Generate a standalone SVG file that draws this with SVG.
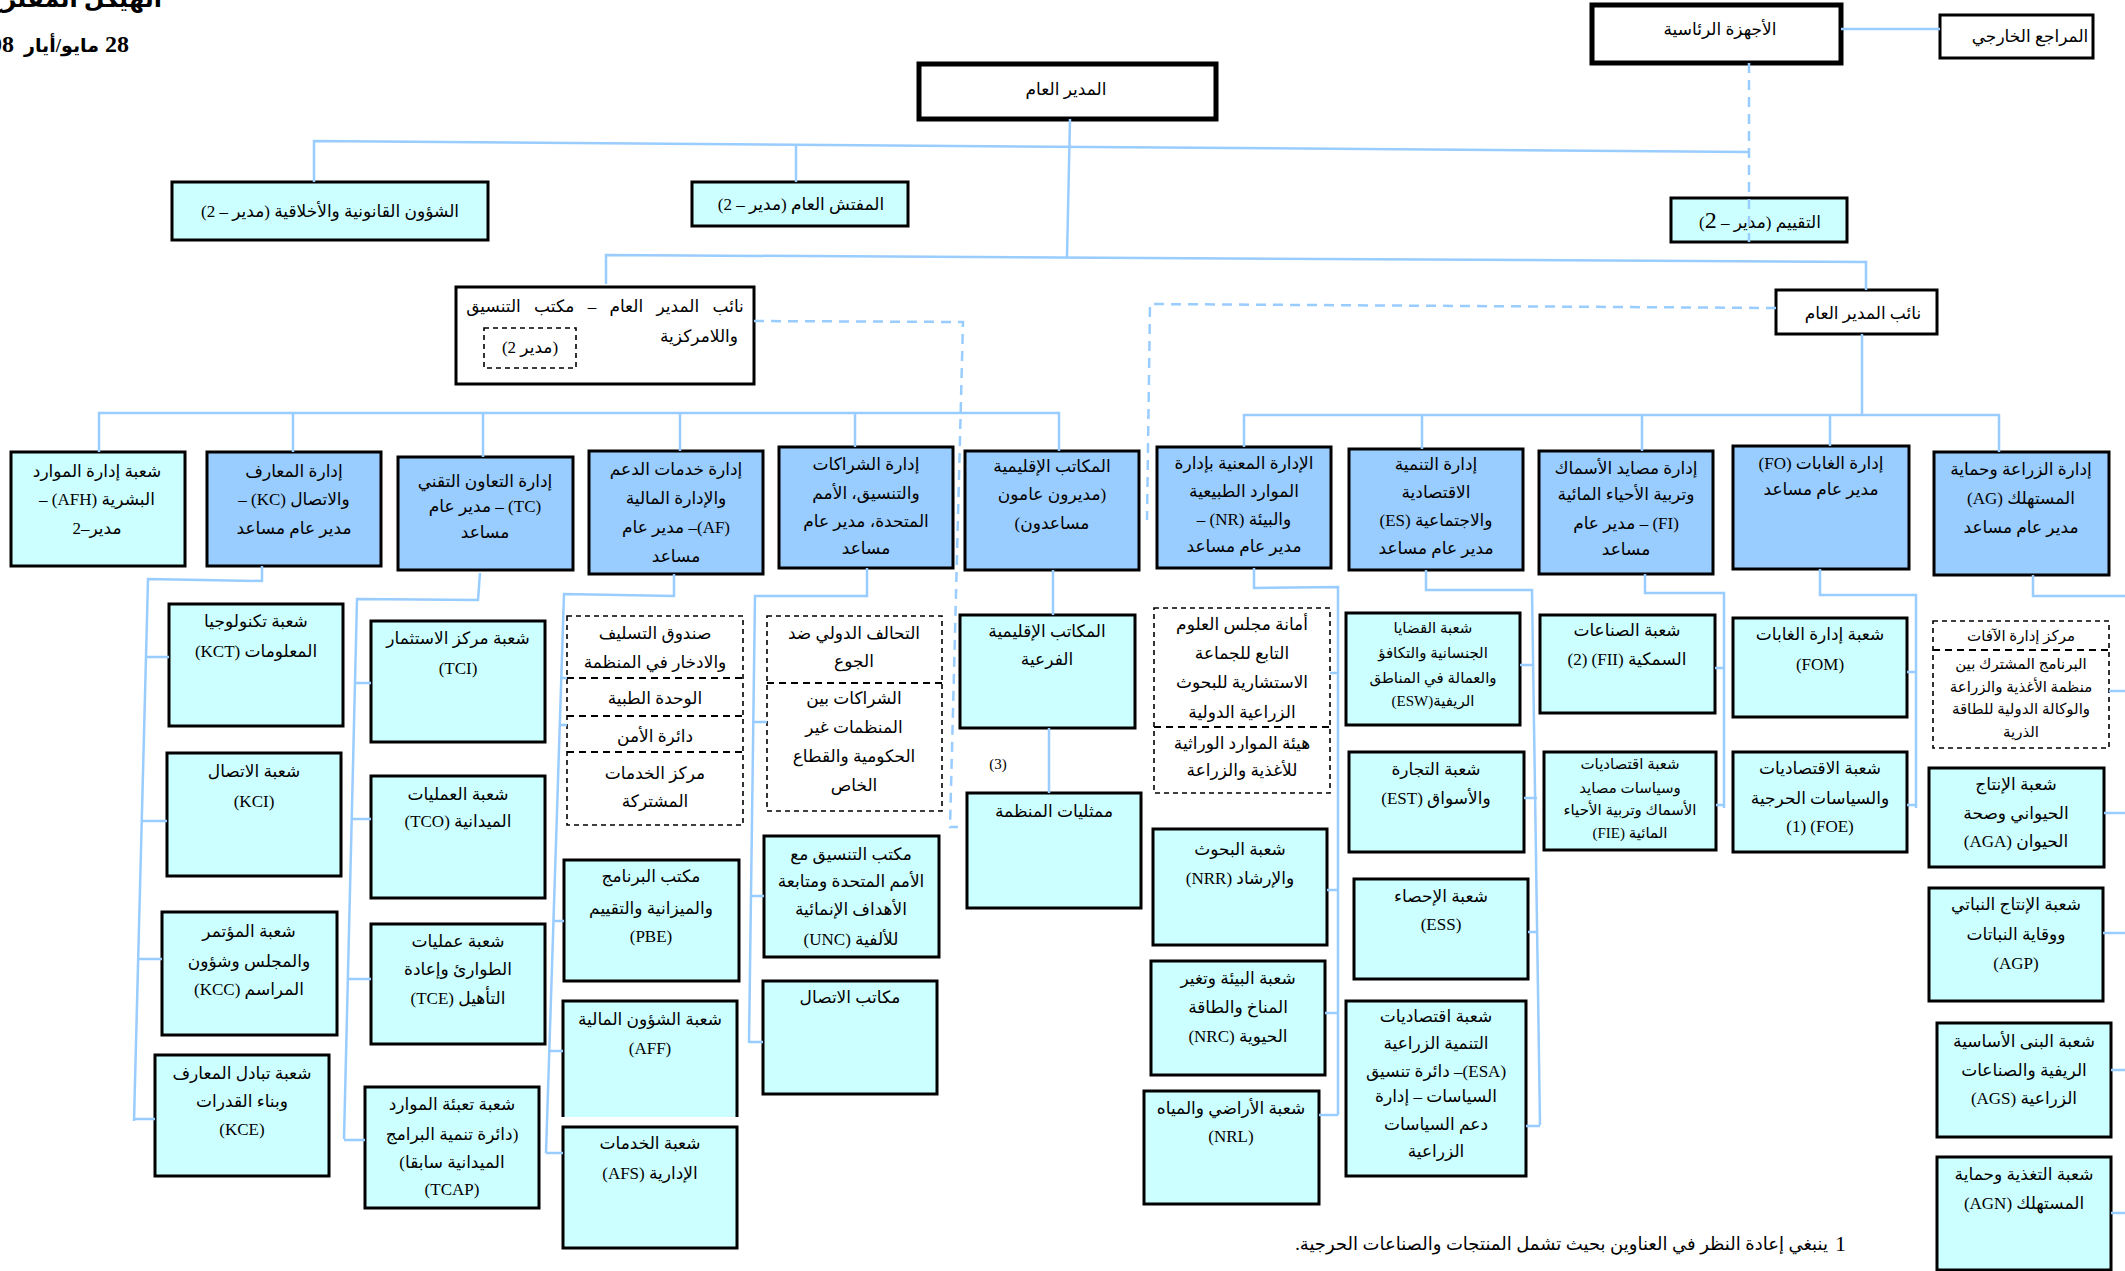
<svg xmlns="http://www.w3.org/2000/svg" width="2125" height="1271" viewBox="0 0 2125 1271">
<style>
.c{fill:#CCFFFF;stroke:#000;stroke-width:3}
.b{fill:#99CCFF;stroke:#000;stroke-width:3}
.w{fill:#fff;stroke:#000;stroke-width:3}
.wk{fill:#fff;stroke:#000;stroke-width:5}
.d{fill:#fff;stroke:#000;stroke-width:1.6;stroke-dasharray:5 4}
.dl{fill:none;stroke:#000;stroke-width:2;stroke-dasharray:7 5}
.t{font-family:"Liberation Serif","DejaVu Sans",serif;font-size:17px;text-anchor:middle;direction:rtl;fill:#000}
.s{font-size:15px}
.conn{fill:none;stroke:#99CCFF;stroke-width:2.5}
.dash{stroke-dasharray:10 7}
.title{font-family:"Liberation Serif","DejaVu Sans",serif;font-size:24px;font-weight:bold;text-anchor:start;direction:rtl;fill:#000}
.date{font-family:"Liberation Serif","DejaVu Sans",serif;font-size:24px;font-weight:bold;text-anchor:end;fill:#000}
</style>

<!-- title -->
<text class="title" x="162" y="7">الهيكل المقترح لمنظمة الأغذية والزراعة</text>
<text class="date" y="52"><tspan x="129">28</tspan><tspan x="99" font-size="19">مايو/أيار</tspan><tspan x="14">2008</tspan></text>

<g id="gov"><rect class="wk" x="1592" y="5" width="249" height="58"/><text class="t" x="1720" y="35">الأجهزة الرئاسية</text></g>
<g id="ext"><rect class="w" x="1940" y="15" width="153" height="43"/><text class="t" x="2030" y="42">المراجع الخارجي</text></g>
<g id="dg"><rect class="wk" x="919" y="64" width="297" height="55"/><text class="t" x="1066" y="95">المدير العام</text></g>
<g id="legal"><rect class="c" x="172" y="182" width="316" height="58"/><text class="t" x="330" y="217">الشؤون القانونية والأخلاقية (مدير – 2)</text></g>
<g id="ig"><rect class="c" x="692" y="182" width="216" height="44"/><text class="t" x="801" y="210">المفتش العام (مدير – 2)</text></g>
<g id="eval"><rect class="c" x="1671" y="198" width="176" height="44"/><text class="t" x="1760" y="228">التقييم (مدير – <tspan font-size="24">2</tspan>)</text></g>
<g id="ndg-coord"><rect class="w" x="456" y="287" width="298" height="97"/>
<text class="t" x="605" y="312" word-spacing="9">نائب المدير العام – مكتب التنسيق</text>
<text class="t" x="738" y="342" style="text-anchor:start">واللامركزية</text>
<rect class="d" x="484" y="328" width="92" height="40"/><text class="t" x="530" y="353" font-size="13">(مدير 2)</text></g>
<g id="ndg"><rect class="w" x="1776" y="290" width="161" height="44"/><text class="t" x="1863" y="319">نائب المدير العام</text></g>

<!-- departments -->
<g id="afh"><rect class="c" x="11" y="452" width="174" height="114"/><text class="t"><tspan x="97" y="477">شعبة إدارة الموارد</tspan><tspan x="97" y="505">البشرية (AFH) –</tspan><tspan x="97" y="534">مدير–2</tspan></text></g>
<g id="kc"><rect class="b" x="207" y="452" width="174" height="114"/><text class="t"><tspan x="294" y="477">إدارة المعارف</tspan><tspan x="294" y="505">والاتصال (KC) –</tspan><tspan x="294" y="534">مدير عام مساعد</tspan></text></g>
<g id="tc"><rect class="b" x="398" y="457" width="175" height="113"/><text class="t"><tspan x="485" y="487">إدارة التعاون التقني</tspan><tspan x="485" y="512">(TC) – مدير عام</tspan><tspan x="485" y="538">مساعد</tspan></text></g>
<g id="af"><rect class="b" x="589" y="451" width="174" height="123"/><text class="t"><tspan x="676" y="475">إدارة خدمات الدعم</tspan><tspan x="676" y="504">والإدارة المالية</tspan><tspan x="676" y="533">(AF)– مدير عام</tspan><tspan x="676" y="562">مساعد</tspan></text></g>
<g id="part"><rect class="b" x="779" y="447" width="174" height="121"/><text class="t"><tspan x="866" y="470">إدارة الشراكات</tspan><tspan x="866" y="499">والتنسيق، الأمم</tspan><tspan x="866" y="527">المتحدة، مدير عام</tspan><tspan x="866" y="554">مساعد</tspan></text></g>
<g id="ro"><rect class="b" x="965" y="451" width="174" height="119"/><text class="t"><tspan x="1052" y="472">المكاتب الإقليمية</tspan><tspan x="1052" y="500">(مديرون عامون</tspan><tspan x="1052" y="529">مساعدون)</tspan></text></g>
<g id="nr"><rect class="b" x="1157" y="447" width="174" height="121"/><text class="t"><tspan x="1244" y="469">الإدارة المعنية بإدارة</tspan><tspan x="1244" y="497">الموارد الطبيعية</tspan><tspan x="1244" y="525">والبيئة (NR) –</tspan><tspan x="1244" y="552">مدير عام مساعد</tspan></text></g>
<g id="es"><rect class="b" x="1349" y="449" width="174" height="121"/><text class="t"><tspan x="1436" y="470">إدارة التنمية</tspan><tspan x="1436" y="498">الاقتصادية</tspan><tspan x="1436" y="526">والاجتماعية (ES)</tspan><tspan x="1436" y="554">مدير عام مساعد</tspan></text></g>
<g id="fi"><rect class="b" x="1539" y="451" width="174" height="123"/><text class="t"><tspan x="1626" y="474">إدارة مصايد الأسماك</tspan><tspan x="1626" y="500">وتربية الأحياء المائية</tspan><tspan x="1626" y="529">(FI) – مدير عام</tspan><tspan x="1626" y="555">مساعد</tspan></text></g>
<g id="fo"><rect class="b" x="1733" y="446" width="176" height="123"/><text class="t"><tspan x="1821" y="469">إدارة الغابات (FO)</tspan><tspan x="1821" y="495">مدير عام مساعد</tspan></text></g>
<g id="ag"><rect class="b" x="1934" y="452" width="175" height="123"/><text class="t"><tspan x="2021" y="475">إدارة الزراعة وحماية</tspan><tspan x="2021" y="504">المستهلك (AG)</tspan><tspan x="2021" y="533">مدير عام مساعد</tspan></text></g>

<!-- KC divisions -->
<g id="kct"><rect class="c" x="169" y="604" width="174" height="122"/><text class="t"><tspan x="256" y="627">شعبة تكنولوجيا</tspan><tspan x="256" y="657">المعلومات (KCT)</tspan></text></g>
<g id="kci"><rect class="c" x="167" y="753" width="174" height="123"/><text class="t"><tspan x="254" y="777">شعبة الاتصال</tspan><tspan x="254" y="807">(KCI)</tspan></text></g>
<g id="kcc"><rect class="c" x="162" y="912" width="175" height="123"/><text class="t"><tspan x="249" y="937">شعبة المؤتمر</tspan><tspan x="249" y="967">والمجلس وشؤون</tspan><tspan x="249" y="995">المراسم (KCC)</tspan></text></g>
<g id="kce"><rect class="c" x="155" y="1055" width="174" height="121"/><text class="t"><tspan x="242" y="1079">شعبة تبادل المعارف</tspan><tspan x="242" y="1107">وبناء القدرات</tspan><tspan x="242" y="1135">(KCE)</tspan></text></g>

<!-- TC divisions -->
<g id="tci"><rect class="c" x="371" y="621" width="174" height="121"/><text class="t"><tspan x="458" y="644">شعبة مركز الاستثمار</tspan><tspan x="458" y="674">(TCI)</tspan></text></g>
<g id="tco"><rect class="c" x="371" y="776" width="174" height="122"/><text class="t"><tspan x="458" y="800">شعبة العمليات</tspan><tspan x="458" y="827">الميدانية (TCO)</tspan></text></g>
<g id="tce"><rect class="c" x="371" y="924" width="174" height="120"/><text class="t"><tspan x="458" y="947">شعبة عمليات</tspan><tspan x="458" y="975">الطوارئ وإعادة</tspan><tspan x="458" y="1004">التأهيل (TCE)</tspan></text></g>
<g id="tcap"><rect class="c" x="365" y="1087" width="174" height="121"/><text class="t"><tspan x="452" y="1110">شعبة تعبئة الموارد</tspan><tspan x="452" y="1140">(دائرة تنمية البرامج</tspan><tspan x="452" y="1168">الميدانية سابقا)</tspan><tspan x="452" y="1195">(TCAP)</tspan></text></g>

<!-- AF -->
<g id="af-units"><rect class="d" x="567" y="616" width="176" height="209"/>
<path class="dl" d="M567 678H743M567 716H743M567 752H743"/>
<text class="t"><tspan x="655" y="639">صندوق التسليف</tspan><tspan x="655" y="668">والادخار في المنظمة</tspan><tspan x="655" y="704">الوحدة الطبية</tspan><tspan x="655" y="742">دائرة الأمن</tspan><tspan x="655" y="779">مركز الخدمات</tspan><tspan x="655" y="807">المشتركة</tspan></text></g>
<g id="pbe"><rect class="c" x="564" y="860" width="175" height="121"/><text class="t"><tspan x="651" y="882">مكتب البرنامج</tspan><tspan x="651" y="914">والميزانية والتقييم</tspan><tspan x="651" y="942">(PBE)</tspan></text></g>
<g id="aff"><path d="M563 1117V1001H737V1117Z" fill="#CCFFFF"/><path d="M563 1117V1001H737V1117" fill="none" stroke="#000" stroke-width="3"/><text class="t"><tspan x="650" y="1025">شعبة الشؤون المالية</tspan><tspan x="650" y="1054">(AFF)</tspan></text></g>
<g id="afs"><rect class="c" x="563" y="1127" width="174" height="121"/><text class="t"><tspan x="650" y="1149">شعبة الخدمات</tspan><tspan x="650" y="1179">الإدارية (AFS)</tspan></text></g>

<!-- Partnerships -->
<g id="part-units"><rect class="d" x="767" y="616" width="175" height="195"/>
<path class="dl" d="M767 683H942"/>
<text class="t"><tspan x="854" y="639">التحالف الدولي ضد</tspan><tspan x="854" y="667">الجوع</tspan><tspan x="854" y="704">الشراكات بين</tspan><tspan x="854" y="733">المنظمات غير</tspan><tspan x="854" y="762">الحكومية والقطاع</tspan><tspan x="854" y="791">الخاص</tspan></text></g>
<g id="unc"><rect class="c" x="764" y="836" width="175" height="121"/><text class="t"><tspan x="851" y="860">مكتب التنسيق مع</tspan><tspan x="851" y="887">الأمم المتحدة ومتابعة</tspan><tspan x="851" y="915">الأهداف الإنمائية</tspan><tspan x="851" y="945">للألفية (UNC)</tspan></text></g>
<g id="lia"><rect class="c" x="763" y="981" width="174" height="113"/><text class="t" x="850" y="1003">مكاتب الاتصال</text></g>

<!-- Regional -->
<g id="rso"><rect class="c" x="960" y="615" width="175" height="113"/><text class="t"><tspan x="1047" y="637">المكاتب الإقليمية</tspan><tspan x="1047" y="665">الفرعية</tspan></text></g>
<g id="rep"><rect class="c" x="967" y="793" width="174" height="115"/><text class="t" x="1054" y="817">ممثليات المنظمة</text></g>
<text class="t s" x="998" y="769">(3)</text>

<!-- NR -->
<g id="nr-units"><rect class="d" x="1154" y="608" width="176" height="185"/>
<path class="dl" d="M1154 727H1330"/>
<text class="t"><tspan x="1242" y="630">أمانة مجلس العلوم</tspan><tspan x="1242" y="659">التابع للجماعة</tspan><tspan x="1242" y="688">الاستشارية للبحوث</tspan><tspan x="1242" y="718">الزراعية الدولية</tspan><tspan x="1242" y="749">هيئة الموارد الوراثية</tspan><tspan x="1242" y="776">للأغذية والزراعة</tspan></text></g>
<g id="nrr"><rect class="c" x="1153" y="829" width="174" height="116"/><text class="t"><tspan x="1240" y="855">شعبة البحوث</tspan><tspan x="1240" y="884">والإرشاد (NRR)</tspan></text></g>
<g id="nrc"><rect class="c" x="1151" y="961" width="174" height="114"/><text class="t"><tspan x="1238" y="984">شعبة البيئة وتغير</tspan><tspan x="1238" y="1013">المناخ والطاقة</tspan><tspan x="1238" y="1042">الحيوية (NRC)</tspan></text></g>
<g id="nrl"><rect class="c" x="1144" y="1091" width="175" height="113"/><text class="t"><tspan x="1231" y="1114">شعبة الأراضي والمياه</tspan><tspan x="1231" y="1142">(NRL)</tspan></text></g>

<!-- ES -->
<g id="esw"><rect class="c" x="1346" y="613" width="174" height="112"/><text class="t s"><tspan x="1433" y="633">شعبة القضايا</tspan><tspan x="1433" y="658">الجنسانية والتكافؤ</tspan><tspan x="1433" y="683">والعمالة في المناطق</tspan><tspan x="1433" y="706">الريفية(ESW)</tspan></text></g>
<g id="est"><rect class="c" x="1349" y="752" width="175" height="100"/><text class="t"><tspan x="1436" y="775">شعبة التجارة</tspan><tspan x="1436" y="804">والأسواق (EST)</tspan></text></g>
<g id="ess"><rect class="c" x="1354" y="879" width="174" height="100"/><text class="t"><tspan x="1441" y="902">شعبة الإحصاء</tspan><tspan x="1441" y="930">(ESS)</tspan></text></g>
<g id="esa"><rect class="c" x="1346" y="1001" width="180" height="175"/><text class="t"><tspan x="1436" y="1022">شعبة اقتصاديات</tspan><tspan x="1436" y="1049">التنمية الزراعية</tspan><tspan x="1436" y="1077">(ESA)– دائرة تنسيق</tspan><tspan x="1436" y="1102">السياسات – إدارة</tspan><tspan x="1436" y="1130">دعم السياسات</tspan><tspan x="1436" y="1157">الزراعية</tspan></text></g>

<!-- FI -->
<g id="fii"><rect class="c" x="1540" y="615" width="175" height="98"/><text class="t"><tspan x="1627" y="636">شعبة الصناعات</tspan><tspan x="1627" y="665">السمكية (FII)&#x200F; (2)</tspan></text></g>
<g id="fie"><rect class="c" x="1544" y="752" width="172" height="98"/><text class="t s"><tspan x="1630" y="769">شعبة اقتصاديات</tspan><tspan x="1630" y="793">وسياسات مصايد</tspan><tspan x="1630" y="815">الأسماك وتربية الأحياء</tspan><tspan x="1630" y="838">المائية (FIE)</tspan></text></g>

<!-- FO -->
<g id="fom"><rect class="c" x="1733" y="618" width="174" height="99"/><text class="t"><tspan x="1820" y="640">شعبة إدارة الغابات</tspan><tspan x="1820" y="670">(FOM)</tspan></text></g>
<g id="foe"><rect class="c" x="1733" y="752" width="174" height="100"/><text class="t"><tspan x="1820" y="774">شعبة الاقتصاديات</tspan><tspan x="1820" y="804">والسياسات الحرجية</tspan><tspan x="1820" y="832">(FOE)&#x200F; (1)</tspan></text></g>

<!-- AG -->
<g id="ag-units"><rect class="d" x="1933" y="621" width="176" height="127"/>
<path class="dl" d="M1933 650H2109"/>
<text class="t s"><tspan x="2021" y="641">مركز إدارة الآفات</tspan><tspan x="2021" y="669">البرنامج المشترك بين</tspan><tspan x="2021" y="692">منظمة الأغذية والزراعة</tspan><tspan x="2021" y="714">والوكالة الدولية للطاقة</tspan><tspan x="2021" y="737">الذرية</tspan></text></g>
<g id="aga"><rect class="c" x="1929" y="768" width="175" height="99"/><text class="t"><tspan x="2016" y="790">شعبة الإنتاج</tspan><tspan x="2016" y="819">الحيواني وصحة</tspan><tspan x="2016" y="847">الحيوان (AGA)</tspan></text></g>
<g id="agp"><rect class="c" x="1929" y="888" width="174" height="113"/><text class="t"><tspan x="2016" y="910">شعبة الإنتاج النباتي</tspan><tspan x="2016" y="940">ووقاية النباتات</tspan><tspan x="2016" y="969">(AGP)</tspan></text></g>
<g id="ags"><rect class="c" x="1937" y="1023" width="174" height="114"/><text class="t"><tspan x="2024" y="1047">شعبة البنى الأساسية</tspan><tspan x="2024" y="1076">الريفية والصناعات</tspan><tspan x="2024" y="1104">الزراعية (AGS)</tspan></text></g>
<g id="agn"><rect class="c" x="1937" y="1157" width="174" height="113"/><text class="t"><tspan x="2024" y="1180">شعبة التغذية وحماية</tspan><tspan x="2024" y="1209">المستهلك (AGN)</tspan></text></g>

<!-- footnote -->
<text class="t" x="1828" y="1250" style="text-anchor:start;font-size:18px">ينبغي إعادة النظر في العناوين بحيث تشمل المنتجات والصناعات الحرجية.</text>
<text x="1846" y="1251" font-family="Liberation Serif,serif" font-size="22" text-anchor="end">1</text>

<g id="connectors" class="conn">
<path d="M1841 29H1940"/>
<path class="dash" d="M1749 63V242"/>
<path d="M314 182V141L1749 152"/>
<path d="M1070 119L1067 257"/>
<path d="M796 144V182"/>
<path d="M606 284V255L1866 262V290"/>
<path class="dash" d="M754 321L963 322L950 827H958"/>
<path class="dash" d="M1776 308L1150 304L1147 520"/>
<path d="M99 452V413H1059V451M293 413V452M483 413V457M680 413V451M855 413V447"/>
<path d="M1862 334V415M1244 447V415H1999V452M1422 415V449M1642 415V451M1830 415V446"/>
<path d="M262 566V581L148 579L134 1121M146 657H169M142 821H167M138 959H162M134 1119H155"/>
<path d="M480 573L478 600L357 599L344 1139M355 683H371M351 819H371M347 979H371M344 1140H365"/>
<path d="M674 574V596L564 594L546 1153M562 678H567M560 725H567M553 921H564M550 1051H563M546 1153H563"/>
<path d="M867 568V596L755 596L749 1043M753 722H767M751 896H764M749 1042H763"/>
<path d="M1053 570V615M1049 728V793"/>
<path d="M1254 568V588L1338 587V1115M1330 673H1338M1327 890H1338M1325 1013H1338M1319 1115H1338"/>
<path d="M1426 570V590L1532 590L1540 1125M1520 665H1534M1524 798H1537M1528 932H1538M1526 1126H1540"/>
<path d="M1645 574V593H1724V808M1715 668H1724M1716 805H1724"/>
<path d="M1820 569V595H1916V808M1907 672H1916M1907 805H1916"/>
<path d="M2033 575V596H2125M2109 691H2125M2104 813H2125M2103 933H2125M2111 1070H2125M2111 1213H2125"/>
</g>
</svg>
